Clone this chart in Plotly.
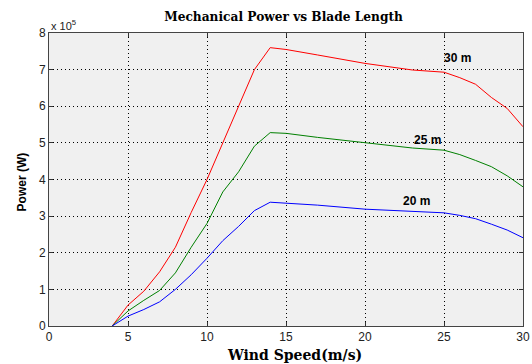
import plotly.graph_objects as go

wind_speed = [4, 5, 6, 7, 8, 9, 10, 11, 12, 13, 14, 15, 17, 20, 23, 25, 26, 27, 28, 29, 30]
power_30m = [0, 0.57, 0.95, 1.48, 2.15, 3.1, 4.0, 5.0, 6.05, 7.0, 7.6, 7.55, 7.4, 7.17, 6.99, 6.93, 6.78, 6.6, 6.24, 5.94, 5.44]
power_25m = [0, 0.41, 0.70, 0.97, 1.45, 2.15, 2.8, 3.66, 4.21, 4.91, 5.28, 5.26, 5.15, 5.0, 4.86, 4.8, 4.68, 4.52, 4.35, 4.1, 3.8]
power_20m = [0, 0.27, 0.45, 0.66, 1.0, 1.4, 1.85, 2.33, 2.72, 3.15, 3.38, 3.36, 3.3, 3.19, 3.12, 3.09, 3.02, 2.93, 2.78, 2.62, 2.41]

labels = ["30 m", "25 m", "20 m"]
label_x = [25.85, 23.95, 23.27]
label_y = [7.33, 5.09, 3.41]

fig = go.Figure()
for ys, col in [(power_30m, "#ff0000"), (power_25m, "#008000"), (power_20m, "#0000ff")]:
    fig.add_trace(go.Scatter(x=wind_speed, y=ys, mode="lines",
                             line=dict(color=col, width=1), showlegend=False))

for t, lx, ly in zip(labels, label_x, label_y):
    fig.add_annotation(x=lx, y=ly, text="<b>%s</b>" % t, showarrow=False,
                       font=dict(family="Liberation Sans", size=12, color="black"))

fig.add_annotation(xref="paper", yref="paper", x=0, y=1, xanchor="left", yanchor="bottom",
                   yshift=-1, text="x 10<sup>5</sup>", showarrow=False,
                   font=dict(family="Liberation Sans", size=11, color="#222"))

# axis titles placed as annotations to match reference position
fig.add_annotation(xref="paper", yref="paper", x=0, y=0.49, xanchor="center", yanchor="middle",
                   xshift=-27, textangle=-90, text="<b>Power (W)</b>", showarrow=False,
                   font=dict(family="Liberation Sans", size=12, color="black"))
fig.add_annotation(xref="paper", yref="paper", x=0.5, y=0, xanchor="center", yanchor="middle",
                   xshift=8, yshift=-29, text="<b>Wind Speed(m/s)</b>", showarrow=False,
                   font=dict(family="DejaVu Serif", size=14, color="black"))

axis_common = dict(showline=True, linecolor="#444", linewidth=1, mirror="ticks",
                   ticks="inside", ticklen=4, tickcolor="#333",
                   showgrid=True, gridcolor="black", griddash="1px,3px", gridwidth=1,
                   zeroline=False, automargin=False,
                   tickfont=dict(family="Liberation Sans", size=12, color="#222"))

fig.update_layout(
    width=532, height=364,
    margin=dict(l=49, r=9, t=33, b=38),
    paper_bgcolor="white", plot_bgcolor="#f0f0f0",
    title=dict(text="<b>Mechanical Power vs Blade Length</b>", x=0.533, xanchor="center",
               y=0.953, yanchor="middle",
               font=dict(family="DejaVu Serif", size=12.2, color="black")),
    xaxis=dict(range=[0, 30], dtick=5, **axis_common),
    yaxis=dict(range=[0, 8], dtick=1, **axis_common),
)

fig.write_html("out.html")
